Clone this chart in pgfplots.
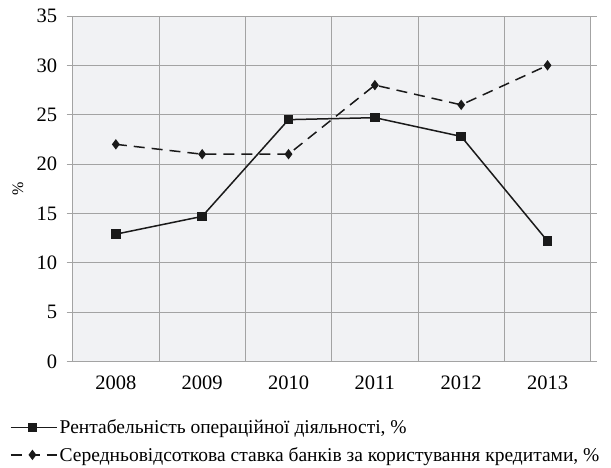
\documentclass[border=0pt]{standalone}
\usepackage{fontspec}
\setmainfont{Liberation Serif}
\usepackage{pgfplots}
\pgfplotsset{compat=1.18}
\definecolor{gridc}{HTML}{A3A3A3}
\definecolor{bgc}{HTML}{F1F2F4}
\definecolor{linec}{HTML}{1A1A1A}
\begin{document}
\begin{tikzpicture}
\useasboundingbox (-72.7pt,-105.5pt) rectangle (538.3pt,361.5pt);
\begin{axis}[
  scale only axis,
  width=518pt, height=345.5pt,
  xmin=-0.5, xmax=5.5,
  ymin=0, ymax=35,
  ytick={0,5,...,35},
  xtick={0,1,2,3,4,5},
  xticklabels={2008,2009,2010,2011,2012,2013},
  minor xtick={0.5,1.5,2.5,3.5,4.5},
  xminorgrids=true, ymajorgrids=true,
  grid style={gridc, line width=1pt},
  minor grid style={gridc, line width=1pt},
  axis line style={gridc, line width=1pt},
  axis background/.style={fill=bgc},
  tick align=outside,
  x tick style={draw=none},
  minor x tick style={draw=none},
  y tick style={gridc, line width=1pt},
  major tick length=6pt,
  tick label style={font=\fontsize{20.5}{24}\selectfont, /pgf/number format/assume math mode=true},
  yticklabel style={xshift=-6pt},
  xticklabel style={yshift=-5pt},
  ylabel={\%},
  ylabel style={font=\fontsize{16}{18}\selectfont, at={(axis description cs:-0.1056,0.5)}, anchor=center},
  legend style={at={(axis description cs:0,0)}, anchor=north west, xshift=-62.7pt, yshift=-56pt,
    draw=none, fill=none, font=\fontsize{19.5}{23}\selectfont, row sep=8pt,
    legend cell align=left, inner sep=0pt},
  legend image code/.code={\draw[mark repeat=2,mark phase=2,#1] plot coordinates {(0pt,0pt) (21.5pt,0pt) (43pt,0pt)}; \path (0pt,0pt) -- (46pt,0pt);},
]
\addplot[linec, line width=1.5pt, mark=square*, mark size=4pt, mark options={solid, fill=linec}]
  coordinates {(0,12.9) (1,14.7) (2,24.5) (3,24.7) (4,22.8) (5,12.2)};
\addlegendentry{Рентабельність операційної діяльності, \%}
\addplot[linec, line width=1.5pt, dash pattern=on 11pt off 7pt, mark=diamond*, mark size=4pt, mark options={solid, fill=linec}]
  coordinates {(0,22) (1,21) (2,21) (3,28) (4,26) (5,30)};
\addlegendentry{Середньовідсоткова ставка банків за користування кредитами, \%}
\end{axis}
\end{tikzpicture}
\end{document}
